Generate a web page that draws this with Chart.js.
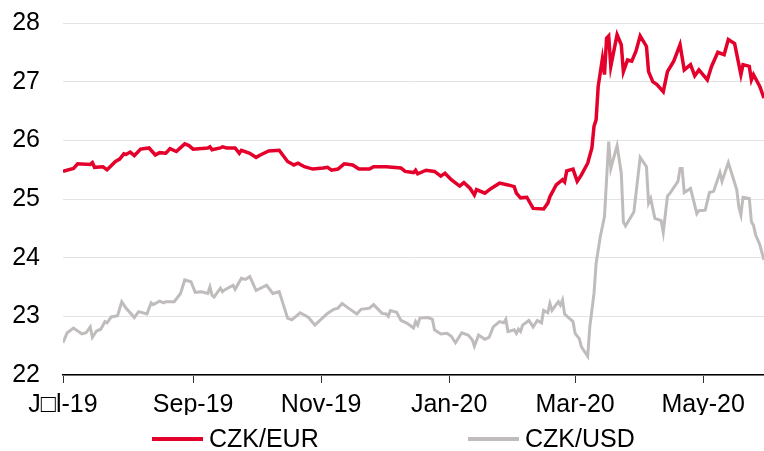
<!DOCTYPE html>
<html>
<head>
<meta charset="utf-8">
<script src="https://cdn.jsdelivr.net/npm/chart.js@4.4.1/dist/chart.umd.min.js"></script>
<style>
  html, body { margin: 0; padding: 0; background: #fff; }
  #wrap { position: relative; width: 764px; height: 451px; }
</style>
</head>
<body>
<div id="wrap"><canvas id="chart"></canvas></div>
<script>
// days counted from 1 Jul 2019
const tickDays = [0, 62, 123, 184, 244, 305]
const tickLabels = ["J\u25A1l-19", "Sep-19", "Nov-19", "Jan-20", "Mar-20", "May-20"]

const eurDays = [0, 5, 7, 13, 14, 15, 19, 21, 25, 27, 29, 30, 32, 34, 37, 41, 44, 46, 49, 51, 54, 58, 60, 62,
  69, 70, 71, 75, 76, 78, 82, 84, 85, 89, 92, 94, 98, 103, 107, 110, 112, 115, 119, 124, 126, 128, 131,
  134, 138, 141, 146, 148, 154, 161, 163, 167, 168, 169, 173, 177, 180, 182, 185, 189, 191, 194, 196,
  197, 201, 204, 208, 212, 215, 216, 218, 221, 224, 229, 231, 232, 235, 238, 239, 240, 243, 245, 247,
  250, 252, 253, 254, 255, 257, 258, 259, 260, 261, 264, 266, 267, 269, 271, 273, 275, 278, 279, 281,
  283, 286, 288, 291, 294, 296, 299, 301, 303, 307, 309, 312, 315, 317, 320, 323, 324, 327, 328, 329,
  332, 334]
const eurValues = [25.47, 25.52, 25.6, 25.59, 25.62, 25.54, 25.55, 25.5, 25.64, 25.68, 25.77, 25.76, 25.8,
  25.74, 25.85, 25.87, 25.75, 25.79, 25.78, 25.86, 25.81, 25.94, 25.91, 25.85, 25.87, 25.89, 25.84, 25.87,
  25.89, 25.87, 25.87, 25.78, 25.83, 25.78, 25.71, 25.75, 25.82, 25.83, 25.64, 25.58, 25.61, 25.55, 25.51,
  25.53, 25.54, 25.49, 25.51, 25.6, 25.58, 25.51, 25.51, 25.55, 25.55, 25.53, 25.47, 25.45, 25.49, 25.43,
  25.49, 25.47, 25.39, 25.44, 25.33, 25.22, 25.28, 25.18, 25.07, 25.16, 25.1, 25.18, 25.27, 25.24, 25.21,
  25.1, 25.02, 25.03, 24.84, 24.83, 24.93, 25.04, 25.24, 25.33, 25.29, 25.48, 25.51, 25.3, 25.41, 25.61,
  25.87, 26.24, 26.35, 26.92, 27.39, 27.12, 27.74, 27.78, 27.26, 27.8, 27.63, 27.17, 27.37, 27.35, 27.52,
  27.78, 27.6, 27.17, 27.0, 26.95, 26.83, 27.17, 27.35, 27.63, 27.2, 27.29, 27.1, 27.2, 27.03, 27.26, 27.5,
  27.46, 27.72, 27.65, 27.12, 27.29, 27.26, 27.03, 27.12, 26.92, 26.72]

const usdDays = [0, 2, 5, 9, 11, 13, 14, 16, 18, 20, 21, 23, 26, 28, 30, 34, 36, 40, 42, 43, 46, 48, 49, 53,
  56, 58, 61, 63, 66, 69, 70, 71, 72, 75, 76, 77, 81, 82, 85, 87, 89, 92, 97, 100, 103, 104, 107, 109, 113,
  117, 120, 126, 129, 131, 133, 136, 140, 142, 146, 148, 152, 154, 155, 156, 159, 161, 164, 167, 168, 169,
  170, 174, 176, 177, 180, 183, 185, 187, 190, 193, 195, 196, 198, 201, 203, 205, 208, 210, 211, 212, 215,
  216, 217, 218, 219, 222, 224, 226, 228, 229, 231, 232, 233, 236, 237, 238, 239, 243, 244, 246, 247, 250,
  251, 253, 254, 256, 258, 260, 261, 264, 266, 267, 268, 272, 275, 278, 279, 280, 282, 285, 286, 288, 289,
  293, 294, 295, 296, 299, 302, 303, 306, 308, 310, 313, 314, 317, 321, 322, 323, 324, 327, 328, 329, 330,
  332, 334]
const usdValues = [22.55, 22.72, 22.8, 22.7, 22.72, 22.82, 22.64, 22.75, 22.78, 22.91, 22.89, 22.99, 23.01,
  23.25, 23.14, 22.98, 23.08, 23.04, 23.23, 23.2, 23.26, 23.23, 23.25, 23.25, 23.39, 23.62, 23.59, 23.41,
  23.42, 23.39, 23.5, 23.36, 23.33, 23.48, 23.42, 23.45, 23.53, 23.46, 23.65, 23.63, 23.68, 23.44, 23.53,
  23.39, 23.42, 23.31, 22.97, 22.94, 23.06, 22.98, 22.85, 23.05, 23.12, 23.14, 23.22, 23.14, 23.04, 23.12,
  23.14, 23.2, 23.05, 23.04, 23.0, 23.1, 23.07, 22.93, 22.88, 22.8, 22.91, 22.85, 22.97, 22.98, 22.95,
  22.77, 22.7, 22.71, 22.66, 22.55, 22.72, 22.68, 22.6, 22.49, 22.68, 22.61, 22.64, 22.82, 22.91, 22.89,
  22.95, 22.74, 22.77, 22.71, 22.78, 22.74, 22.85, 22.93, 22.82, 22.93, 22.89, 23.1, 23.06, 23.22, 23.1,
  23.25, 23.19, 23.28, 23.04, 22.91, 22.71, 22.62, 22.48, 22.32, 22.82, 23.39, 23.9, 24.36, 24.7, 25.98,
  25.52, 25.91, 25.44, 24.61, 24.54, 24.78, 25.71, 25.55, 24.93, 25.01, 24.67, 24.63, 24.43, 25.05, 25.09,
  25.3, 25.52, 25.52, 25.11, 25.18, 24.75, 24.8, 24.81, 25.11, 25.13, 25.45, 25.3, 25.62, 25.16, 24.87,
  24.73, 25.03, 25.01, 24.61, 24.55, 24.39, 24.22, 23.96]

const FONT = "'Liberation Sans', Arial, sans-serif"
const RED = "#e4002b"
const GREY = "#c0bcbc"

const toPoints = (days, values) => days.map((d, i) => ({ x: d, y: values[i] }))

// legend drawn under the axis, two entries
const legendPlugin = {
  id: "bottomLegend",
  afterDraw: (chart) => {
    const { ctx } = chart
    const starts = [152, 468]
    const y = 439
    ctx.save()
    ctx.font = "25px " + FONT
    ctx.textBaseline = "middle"
    ctx.textAlign = "left"
    chart.data.datasets.forEach((ds, i) => {
      ctx.fillStyle = ds.borderColor
      ctx.fillRect(starts[i], y - 2, 51, 4)
      ctx.fillStyle = "#000"
      ctx.fillText(ds.label, starts[i] + 57, y + 1)
    })
    ctx.restore()
  },
}

new Chart(document.getElementById("chart"), {
  type: "line",
  plugins: [legendPlugin],
  data: {
    datasets: [
      {
        label: "CZK/EUR",
        data: toPoints(eurDays, eurValues),
        borderColor: RED,
        borderWidth: 3.5,
        pointRadius: 0,
        tension: 0,
      },
      {
        label: "CZK/USD",
        data: toPoints(usdDays, usdValues),
        borderColor: GREY,
        borderWidth: 3,
        pointRadius: 0,
        tension: 0,
      },
    ],
  },
  options: {
    responsive: true,
    maintainAspectRatio: false,
    animation: false,
    layout: { padding: { top: 23, right: 0, bottom: 36, left: 0 } },
    plugins: { legend: { display: false }, tooltip: { enabled: false } },
    scales: {
      x: {
        type: "linear",
        min: 0,
        max: 334,
        afterBuildTicks: (scale) => {
          scale.ticks = tickDays.map((d) => ({ value: d }))
        },
        afterFit: (scale) => {
          scale.height = 40
          scale.paddingLeft = 0
          scale.paddingRight = 0
        },
        grid: { drawOnChartArea: false, drawTicks: true, tickLength: 8, color: "#333" },
        border: { display: true, color: "#000", width: 1.5 },
        ticks: {
          autoSkip: false,
          maxRotation: 0,
          padding: 7,
          color: "#000",
          font: { family: FONT, size: 25 },
          callback: (v) => tickLabels[tickDays.indexOf(v)],
        },
      },
      y: {
        min: 22,
        max: 28,
        afterFit: (scale) => {
          scale.width = 63
          scale.paddingTop = 0
          scale.paddingBottom = 0
        },
        grid: { color: "#e3e3e3", lineWidth: 1, drawTicks: false },
        border: { display: false },
        ticks: {
          stepSize: 1,
          padding: 23,
          color: "#000",
          font: { family: FONT, size: 25 },
        },
      },
    },
  },
})
</script>
</body>
</html>
